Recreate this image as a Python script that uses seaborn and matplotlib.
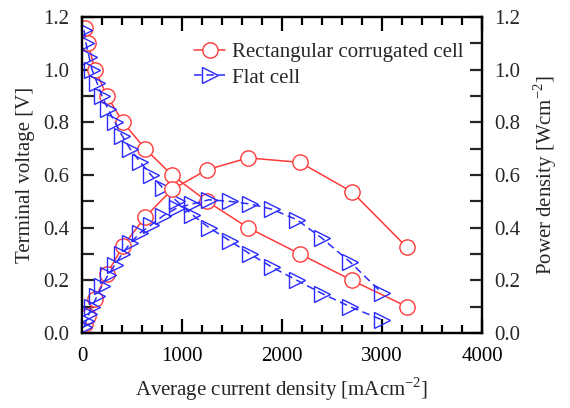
import pandas as pd
import seaborn as sns
import matplotlib.pyplot as plt
from matplotlib.ticker import MultipleLocator

# Rectangular corrugated cell
rect_i = [30, 60, 130, 250, 410, 630, 900, 1250, 1660, 2180, 2700, 3250]
rect_v = [1.16, 1.10, 1.00, 0.90, 0.80, 0.70, 0.60, 0.50, 0.40, 0.30, 0.20, 0.10]
rect_p = [0.035, 0.066, 0.13, 0.225, 0.33, 0.44, 0.545, 0.62, 0.665, 0.648, 0.536, 0.325]

# Flat cell
flat_i = [20, 40, 70, 100, 150, 200, 260, 330, 400, 480, 580, 690, 810, 950,
          1100, 1270, 1480, 1680, 1900, 2150, 2400, 2680, 3000]
flat_v = [1.15, 1.10, 1.05, 1.00, 0.95, 0.90, 0.85, 0.80, 0.75, 0.70, 0.65, 0.60,
          0.55, 0.50, 0.45, 0.40, 0.35, 0.30, 0.25, 0.20, 0.15, 0.10, 0.05]
flat_p = [0.023, 0.044, 0.074, 0.10, 0.14, 0.18, 0.22, 0.26, 0.30, 0.34, 0.38, 0.41,
          0.445, 0.475, 0.49, 0.506, 0.50, 0.49, 0.47, 0.43, 0.36, 0.27, 0.152]

rect = pd.DataFrame({'i': rect_i, 'v': rect_v, 'p': rect_p})
flat = pd.DataFrame({'i': flat_i, 'v': flat_v, 'p': flat_p})

sns.set_style("ticks")
plt.rcParams['font.family'] = ['Liberation Serif', 'DejaVu Serif']
plt.rcParams['mathtext.fontset'] = 'custom'
plt.rcParams['mathtext.rm'] = 'Liberation Serif'

red = '#ff3a3a'
blue = '#2a2aff'
fs = 15

fig = plt.figure(figsize=(5.7, 4.08), dpi=100)
ax = fig.add_axes([0.1439, 0.1838, 0.7017, 0.7745])
ax2 = ax.twinx()

rkw = dict(color=red, marker='o', markersize=11, markerfacecolor='white',
           markeredgecolor=red, markeredgewidth=1.0, linewidth=1.1)
bkw = dict(color=blue, marker='>', markersize=11, markerfacecolor='none',
           markeredgecolor=blue, markeredgewidth=1.0, linewidth=1.1,
           linestyle=(0, (5, 3)))

sns.lineplot(data=rect, x='i', y='v', ax=ax, label='Rectangular corrugated cell', **rkw)
sns.lineplot(data=flat, x='i', y='v', ax=ax, label='Flat cell', **bkw)
sns.lineplot(data=rect, x='i', y='p', ax=ax2, **rkw)
sns.lineplot(data=flat, x='i', y='p', ax=ax2, **bkw)

for a in (ax, ax2):
    a.set_xlim(0, 4000)
    a.set_ylim(0, 1.2)
    a.yaxis.set_major_locator(MultipleLocator(0.2))
    a.yaxis.set_minor_locator(MultipleLocator(0.1))
    a.yaxis.set_major_formatter(plt.FormatStrFormatter('%.1f'))
    for s in a.spines.values():
        s.set_linewidth(1.6)
        s.set_color('black')

ax.xaxis.set_major_locator(MultipleLocator(1000))
ax.xaxis.set_minor_locator(MultipleLocator(200))
ax.tick_params(axis='x', which='both', direction='in', top=True, bottom=True,
               labelsize=fs, pad=10, colors='black')
ax.tick_params(axis='x', which='major', length=10, width=1.6)
ax.tick_params(axis='x', which='minor', length=5.5, width=1.6)
ax.tick_params(axis='y', which='both', direction='in', left=True, right=False,
               labelsize=fs, pad=9, length=8.5, width=1.6)
ax2.tick_params(axis='y', which='both', direction='in', right=True, left=False,
                labelsize=fs, pad=9, length=8.5, width=1.6)

ax.set_xlabel('Average current density [mAcm$^{-2}$]', fontsize=fs, labelpad=7)
ax.set_ylabel('Terminal voltage [V]', fontsize=fs, labelpad=6)
ax2.set_ylabel('Power density [Wcm$^{-2}$]', fontsize=fs, labelpad=8)

ax.legend(loc='upper left', bbox_to_anchor=(0.28, 0.92), frameon=False,
          fontsize=fs, handlelength=1.5, handletextpad=0.3, labelspacing=0.3,
          borderpad=0, borderaxespad=0)
if ax2.get_legend() is not None:
    ax2.get_legend().remove()

fig.savefig('out.png', dpi=100)
